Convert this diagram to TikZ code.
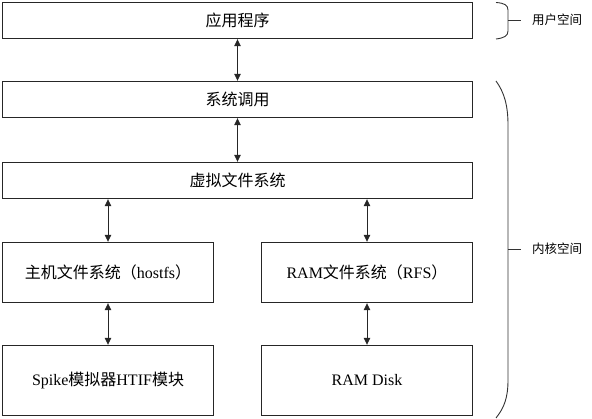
\documentclass[tikz,border=0pt]{standalone}
\usepackage{fontspec}
\setmainfont{Liberation Serif}
\newfontfamily\cjk{Noto Sans CJK SC}
\usetikzlibrary{arrows.meta}
\begin{document}
\begin{tikzpicture}[x=1pt,y=-1pt,
 box/.style={draw=black!85, line width=1.4pt, inner sep=0, font=\fontsize{16}{18}\selectfont},
 wide/.style={box, minimum width=470pt, minimum height=36pt},
 half/.style={box, minimum width=211pt},
 link/.style={draw=black!85, line width=0.8pt, {Triangle[length=7pt,width=6.5pt]}-{Triangle[length=7pt,width=6.5pt]}},
 bracepath/.style={draw=black!80, line width=0.9pt},
 side/.style={anchor=west, inner sep=0, font=\cjk\fontsize{12.5}{14}\selectfont}]
\useasboundingbox (0,0) rectangle (592,419);
\node[wide] (app) at (237.5,20.5) {\cjk 应用程序};
\node[wide] (sys) at (237.5,99.5) {\cjk 系统调用};
\node[wide] (vfs) at (237.5,180.5) {\cjk 虚拟文件系统};
\node[half, minimum height=60pt] (host) at (108,272.5) {{\cjk 主机文件系统（}hostfs{\cjk ）}};
\node[half, minimum height=60pt] (rfs) at (367,272.5) {RAM{\cjk 文件系统（}RFS{\cjk ）}};
\node[half, minimum height=70pt] (spike) at (108,380.5) {Spike{\cjk 模拟器}HTIF{\cjk 模块}};
\node[half, minimum height=70pt] (disk) at (367,380.5) {RAM Disk};
\draw[link] (app.south) -- (sys.north);
\draw[link] (sys.south) -- (vfs.north);
\draw[link] (vfs.south -| host.north) -- (host.north);
\draw[link] (vfs.south -| rfs.north) -- (rfs.north);
\draw[link] (host.south) -- (spike.north);
\draw[link] (rfs.south) -- (disk.north);
% braces
\coordinate (b1top) at (496,2.5);
\coordinate (b1bot) at (496,39);
\coordinate (b1tip) at (508,20);
\coordinate (b1end) at (521,20);
\draw[bracepath] (b1top) .. controls (504,3) and (508,5) .. (508,10) -- (508,31) .. controls (508,36) and (504,38) .. (b1bot);
\draw[bracepath] (b1tip) -- (b1end);
\node[side] (user) at (532,20) {用户空间};
\coordinate (b2top) at (496,81);
\coordinate (b2bot) at (496,418);
\coordinate (b2tip) at (508,249);
\coordinate (b2end) at (521,249);
\draw[bracepath] (b2top) .. controls (504,92) and (508,105) .. (508,125) -- (508,380) .. controls (508,398) and (504,408) .. (b2bot);
\draw[bracepath] (b2tip) -- (b2end);
\node[side] (kernel) at (532,249) {内核空间};
\end{tikzpicture}
\end{document}
